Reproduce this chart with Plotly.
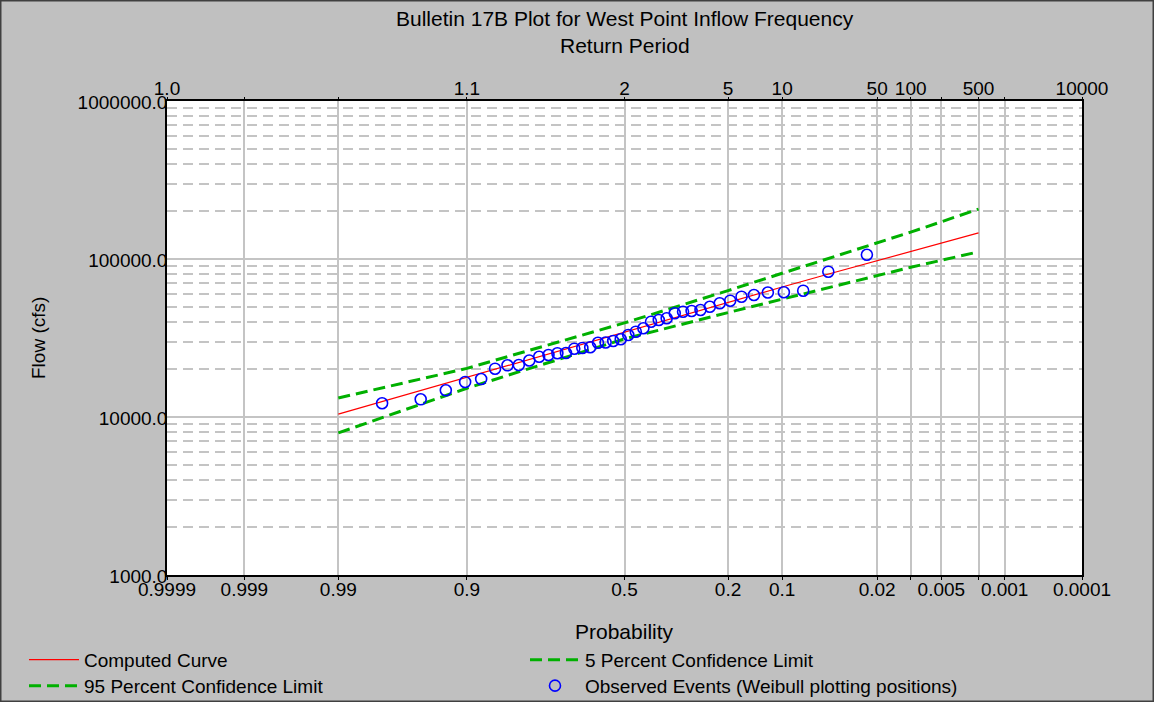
import plotly.graph_objects as go
from statistics import NormalDist

# ---------------- data ----------------
curve_prob = [0.99, 0.95, 0.9, 0.8, 0.5, 0.2, 0.1, 0.05, 0.02, 0.01, 0.005, 0.002]
computed_curve = [10430, 14800, 17950, 22600, 34700, 53300, 66500, 79800, 97700, 111700, 126500, 146200]
conf_5 = [13200, 17500, 20300, 25500, 39400, 63100, 81000, 99500, 125600, 148000, 172000, 207000]
conf_95 = [7930, 12100, 15200, 19500, 31200, 45800, 55800, 65900, 79200, 88600, 98200, 111000]

# observed annual peaks, ascending order
observed_flows = [12210, 12940, 14760, 16660, 17400, 20220, 21240, 21330, 22790, 24080,
                  24690, 25310, 25420, 27060, 27340, 27620, 29530, 29620, 30270, 31030,
                  33040, 34670, 36430, 40110, 41110, 42140, 45340, 46410, 46880, 47570,
                  49900, 52440, 54470, 57740, 59190, 61380, 61560, 63020, 83110, 106450]

prob_ticks = [0.9999, 0.999, 0.99, 0.9, 0.5, 0.2, 0.1, 0.02, 0.01, 0.005, 0.002, 0.001, 0.0001]
prob_labels = ["0.9999", "0.999", "0.99", "0.9", "0.5", "0.2", "0.1", "0.02", "", "0.005", "", "0.001", "0.0001"]
return_labels = ["1.0", "", "", "1.1", "2", "5", "10", "50", "100", "", "500", "", "10000"]

flow_ticks = [1000, 10000, 100000, 1000000]
flow_labels = ["1000.0", "10000.0", "100000.0", "1000000.0"]
flow_minor = [m * d for d in (1000, 10000, 100000) for m in range(2, 10)]

# ---------------- probability scale ----------------
nd = NormalDist()


def zpos(p):
    return nd.inv_cdf(1.0 - p)


n = len(observed_flows)
obs_prob = [(n + 1 - i) / (n + 1) for i in range(1, n + 1)]  # Weibull plotting positions

xr = [zpos(0.9999), zpos(0.0001)]
tickpos = [zpos(p) for p in prob_ticks]

GREEN = "#00B000"
GRID = "#C4C4C4"
FONT = "Liberation Sans, Arial, sans-serif"
DASH = "12px,6px"
TICK_FONT = dict(size=19)
TITLE_SIZE = 21

fig = go.Figure()
fig.add_trace(go.Scatter(x=[zpos(p) for p in curve_prob], y=computed_curve, mode="lines",
                         name="Computed Curve", legend="legend",
                         line=dict(color="#FF0000", width=1.2)))
fig.add_trace(go.Scatter(x=[zpos(p) for p in curve_prob], y=conf_5, mode="lines",
                         name="5 Percent Confidence Limit", legend="legend",
                         line=dict(color=GREEN, width=3, dash=DASH)))
fig.add_trace(go.Scatter(x=[zpos(p) for p in curve_prob], y=conf_95, mode="lines",
                         name="95 Percent Confidence Limit", legend="legend2",
                         line=dict(color=GREEN, width=3, dash=DASH)))
fig.add_trace(go.Scatter(x=[zpos(p) for p in obs_prob], y=observed_flows, mode="markers",
                         name="Observed Events (Weibull plotting positions)", legend="legend2",
                         marker=dict(symbol="circle-open", size=11, color="#0000FF",
                                     line=dict(width=1.6, color="#0000FF"))))
# carrier for the top (return period) axis
fig.add_trace(go.Scatter(x=xr, y=[None, None], xaxis="x2", mode="lines",
                         showlegend=False, hoverinfo="skip"))

leg_common = dict(orientation="h", xanchor="left", yanchor="top", entrywidth=436,
                  itemwidth=50, bgcolor="rgba(0,0,0,0)",
                  font=dict(family=FONT, size=19, color="black"))

fig.update_layout(
    width=1154, height=702,
    margin=dict(l=167, r=72, t=101, b=127, autoexpand=False),
    paper_bgcolor="#C0C0C0", plot_bgcolor="white",
    font=dict(family=FONT, size=19, color="black"),
    showlegend=True,
    legend=dict(x=-0.1563, y=-0.1388, **leg_common),
    legend2=dict(x=-0.1563, y=-0.1937, **leg_common),
    xaxis=dict(range=xr, tickvals=tickpos, ticktext=prob_labels, showgrid=True,
               gridcolor=GRID, gridwidth=1.5, zeroline=False, showline=True,
               linecolor="black", linewidth=1.5, mirror=True, ticks="outside", ticklen=3,
               tickcolor="black", tickfont=TICK_FONT, ticklabelstandoff=-7),
    xaxis2=dict(range=xr, tickvals=tickpos, ticktext=return_labels, overlaying="x",
                side="top", showgrid=False, zeroline=False, ticks="outside", ticklen=3,
                tickcolor="black", tickfont=TICK_FONT, ticklabelstandoff=-6),
    yaxis=dict(type="log", range=[3, 6], tickvals=flow_ticks, ticktext=flow_labels,
               showgrid=True, gridcolor=GRID, gridwidth=1.5, zeroline=False,
               showline=True, linecolor="black", linewidth=1.5, mirror=True, ticks="",
               ticklabelstandoff=-6, ticklabelshift=1, tickfont=TICK_FONT,
               minor=dict(tickvals=flow_minor, showgrid=True, gridcolor=GRID,
                          griddash="10px,6px", gridwidth=1.5)),
    annotations=[
        dict(text="Bulletin 17B Plot for West Point Inflow Frequency", xref="paper", yref="paper",
             x=0.5, y=(575 - 19) / 474, xanchor="center", yanchor="middle", showarrow=False,
             font=dict(size=TITLE_SIZE)),
        dict(text="Return Period", xref="paper", yref="paper",
             x=0.5, y=(575 - 45) / 474, xanchor="center", yanchor="middle", showarrow=False,
             font=dict(size=TITLE_SIZE)),
        dict(text="Probability", xref="paper", yref="paper",
             x=0.5, y=(575 - 631) / 474, xanchor="center", yanchor="middle", showarrow=False,
             font=dict(size=TITLE_SIZE)),
        dict(text="Flow (cfs)", xref="paper", yref="paper", textangle=-90,
             x=(38 - 167) / 915, y=(575 - 338) / 474, xanchor="center", yanchor="middle",
             showarrow=False, font=dict(size=19)),
    ],
    shapes=[dict(type="rect", xref="paper", yref="paper",
                 x0=-167 / 915, x1=(1154 - 167) / 915, y0=-127 / 474, y1=(702 - 127) / 474,
                 line=dict(color="#404040", width=3), fillcolor="rgba(0,0,0,0)", layer="above")],
)

fig.write_html("out.html")
